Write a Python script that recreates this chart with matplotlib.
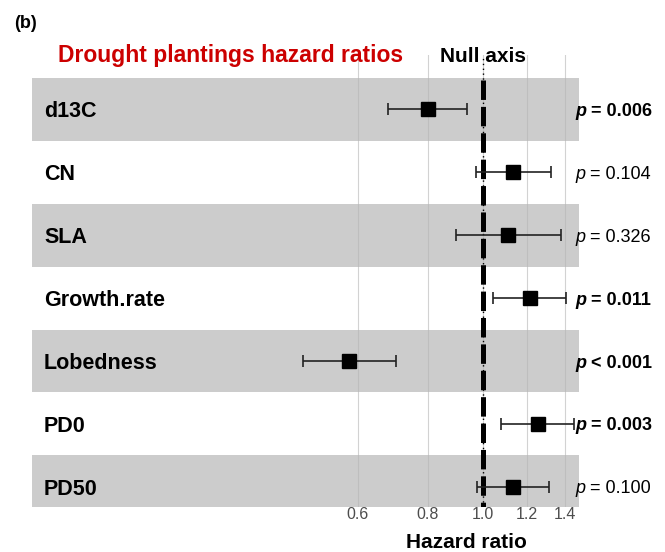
import matplotlib
matplotlib.use("Agg")
import matplotlib.pyplot as plt
import matplotlib.transforms as mtransforms
import numpy as np

plt.rcParams['font.family'] = ['Liberation Sans', 'DejaVu Sans']
plt.rcParams['lines.scale_dashes'] = False

# Cox model hazard ratios, drought plantings
traits = ['d13C', 'CN', 'SLA', 'Growth.rate', 'Lobedness', 'PD0', 'PD50']
hr = [0.800, 1.134, 1.111, 1.214, 0.579, 1.253, 1.131]
ci_low = [0.680, 0.974, 0.897, 1.042, 0.480, 1.079, 0.976]
ci_high = [0.937, 1.323, 1.379, 1.407, 0.701, 1.456, 1.314]
p_rel = ['=', '=', '=', '=', '<', '=', '=']
p_vals = ['0.006', '0.104', '0.326', '0.011', '0.001', '0.003', '0.100']
significant = [True, False, False, True, True, True, False]
xticks = [0.6, 0.8, 1.0, 1.2, 1.4]

fig = plt.figure(figsize=(6.65, 5.52), dpi=100)
ax = fig.add_axes([0.0481, 0.0815, 0.8226, 0.8189])

n = len(traits)
ypos = np.arange(n)

# alternating gray row bands
for i in ypos[::2]:
    ax.axhspan(i - 0.5, i + 0.5, color='#cccccc', lw=0, zorder=0)

ax.set_xscale('log')
ax.set_xlim(0.1584, 1.484)
ax.set_ylim(6.32, -0.863)

for xv in xticks:
    ax.axvline(xv, color='#b5b5b5', lw=0.8, alpha=0.6, zorder=1)

# null axis at HR = 1
ax.axvline(1.0, color='black', lw=1.0, ls=(0, (1, 2.5)), zorder=2)
ax.plot([1.0, 1.0], [-0.46, 6.32], color='black', lw=3.6,
        ls=(0, (14, 5)), solid_capstyle='butt', zorder=2)

# estimates with 95% CI
hr_a = np.array(hr)
err = [hr_a - np.array(ci_low), np.array(ci_high) - hr_a]
ax.errorbar(hr, ypos, xerr=err, fmt='none', ecolor='#222222',
            elinewidth=1.2, capsize=4, capthick=1.2, zorder=3)
ax.plot(hr, ypos, 's', color='black', ms=9.5, zorder=4)

ax.set_xticks(xticks)
ax.set_xticklabels([f'{v:.1f}' for v in xticks])
ax.xaxis.set_minor_locator(matplotlib.ticker.NullLocator())
ax.tick_params(axis='x', length=0, pad=0, labelsize=11.5, labelcolor='#4d4d4d')
ax.set_yticks([])
for s in ax.spines.values():
    s.set_visible(False)

fig.text(466 / 665, 1 - 548 / 552, 'Hazard ratio', fontsize=15,
         fontweight='bold', va='baseline', ha='center')

# row labels and p-values
trans = mtransforms.blended_transform_factory(fig.transFigure, ax.transData)
for i in ypos:
    ax.text(44 / 665, i, traits[i], transform=trans, fontsize=15.5,
            fontweight='bold', va='center_baseline', ha='left')
    w = 'bold' if significant[i] else 'normal'
    tp = ax.text(0.8647, i, 'p', transform=trans, fontsize=13,
                 fontstyle='italic', fontweight=w, va='center_baseline', ha='left')
    ax.annotate(f' {p_rel[i]} {p_vals[i]}', xy=(1, 0), xycoords=tp,
                fontsize=13, fontweight=w, va='bottom', ha='left')

fig.text(58 / 665, 1 - 62 / 552, 'Drought plantings hazard ratios', color='#cc0000',
         fontsize=16.5, fontweight='bold', va='baseline', ha='left')
fig.text(440 / 665, 1 - 62 / 552, 'Null axis', fontsize=15, fontweight='bold',
         va='baseline', ha='left')
fig.text(14 / 665, 1 - 28 / 552, '(b)', fontsize=13, fontweight='bold',
         va='baseline', ha='left')

fig.savefig('out.png', dpi=100)
